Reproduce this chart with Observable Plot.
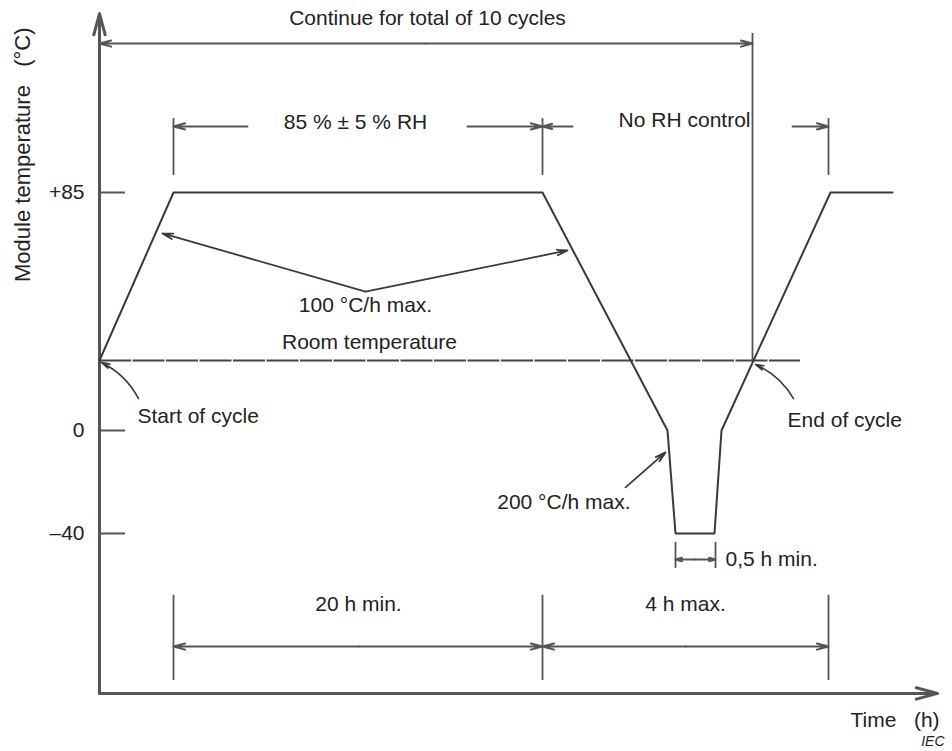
<!DOCTYPE html>
<html>
<head>
<meta charset="utf-8">
<script src="https://cdn.jsdelivr.net/npm/d3@7"></script>
<script src="https://cdn.jsdelivr.net/npm/@observablehq/plot@0.6"></script>
<style>
  html, body { margin: 0; padding: 0; background: #fff; }
  #chart svg { display: block; }
</style>
</head>
<body>
<div id="chart"></div>
<script>
// ---- Temperature profile of one humidity-freeze cycle (schematic time units, °C) ----
const cycleTime = [0, 7.4, 44.3, 56.8, 57.6, 61.5, 62.2, 73.1, 79.3];
const cycleTemp = [25, 85, 85, 0, -40, -40, 0, 85, 85];
const roomTemp = 25;
const roomTempEnd = 70.1;

// ---- Y tick values and labels ----
const yTicks = [85, 0, -40];
const yTickLabels = ["+85", "0", "\u201340"];

// ---- Axis extents (schematic) ----
const tMin = 0, tMax = 83.8;
const tempMin = -102.1, tempMax = 148.9;

// ---- Phase boundaries (schematic time) ----
const phaseBounds = [7.4, 44.3, 72.9];
const cycleEnd = 65.3;
const coldDwell = [57.6, 61.6];

// ---- Texts ----
const annotations = [
  {text: "Continue for total of 10 cycles", t: 32.8, temp: 147.1, anchor: "middle"},
  {text: "85 % \u00b1 5 % RH", t: 25.6, temp: 110, anchor: "middle"},
  {text: "No RH control", t: 65.1, temp: 110.7, anchor: "end"},
  {text: "100 \u00b0C/h max.", t: 26.6, temp: 44.6, anchor: "middle"},
  {text: "Room temperature", t: 27.0, temp: 31.4, anchor: "middle"},
  {text: "Start of cycle", t: 3.8, temp: 5, anchor: "start"},
  {text: "End of cycle", t: 68.8, temp: 3.6, anchor: "start"},
  {text: "200 \u00b0C/h max.", t: 53.1, temp: -28, anchor: "end"},
  {text: "0,5 h min.", t: 62.6, temp: -50.1, anchor: "start"},
  {text: "20 h min.", t: 25.9, temp: -67.5, anchor: "middle"},
  {text: "4 h max.", t: 58.6, temp: -67.5, anchor: "middle"},
  {text: "Time   (h)", t: 75.1, temp: -112.6, anchor: "start"}
];
const yLabel = {text: "Module temperature   (\u00b0C)", t: -7.7, temp: 98.5};
const sourceLabel = {text: "IEC", t: 84.5, temp: -120.8};

// ---- Leader arrows (tail -> head) ----
const leaders = [
  {t1: 26.6, y1: 49.6, t2: 6.3, y2: 70.4, curved: false},
  {t1: 26.6, y1: 49.6, t2: 46.8, y2: 64.3, curved: false},
  {t1: 3.9, y1: 11.4, t2: 0.2, y2: 24.3, curved: true},
  {t1: 69.4, y1: 11.4, t2: 65.6, y2: 23.6, curved: true},
  {t1: 52.6, y1: -22.1, t2: 56.6, y2: -8.5, curved: false}
];

// ---- Dimension arrows (tail -> head) ----
const dimArrows = [
  {t1: 32.65, y1: 138.2, t2: 0, y2: 138.2},
  {t1: 32.65, y1: 138.2, t2: 65.3, y2: 138.2},
  {t1: 14.8, y1: 108.6, t2: 7.4, y2: 108.6},
  {t1: 36.8, y1: 108.6, t2: 44.3, y2: 108.6},
  {t1: 47.3, y1: 108.6, t2: 44.3, y2: 108.6},
  {t1: 69.3, y1: 108.6, t2: 72.9, y2: 108.6},
  {t1: 59.6, y1: -50.1, t2: 57.6, y2: -50.1},
  {t1: 59.6, y1: -50.1, t2: 61.6, y2: -50.1},
  {t1: 25.9, y1: -83.9, t2: 7.4, y2: -83.9},
  {t1: 25.9, y1: -83.9, t2: 44.3, y2: -83.9},
  {t1: 58.6, y1: -83.9, t2: 44.3, y2: -83.9},
  {t1: 58.6, y1: -83.9, t2: 72.9, y2: -83.9}
];

// ---- Vertical dimension ticks ----
const dimTicks = [
  ...phaseBounds.map(t => ({t, y1: 91.1, y2: 111.4})),
  ...phaseBounds.map(t => ({t, y1: -97.1, y2: -64})),
  ...coldDwell.map(t => ({t, y1: -53.6, y2: -43.5})),
  {t: cycleEnd, y1: 25, y2: 141.8}
];

const profile = cycleTime.map((t, i) => ({t, temp: cycleTemp[i]}));
const ticks = yTicks.map((v, i) => ({v, label: yTickLabels[i]}));
const byAnchor = a => annotations.filter(d => d.anchor === a);

const FONT = "'Liberation Sans', Arial, Helvetica, sans-serif";
const INK = "#222";
const LINE = "#3a3a3a";
const DIM = "#555";
const FS = 21;

const chart = Plot.plot({
  width: 952,
  height: 751,
  marginTop: 0, marginRight: 0, marginBottom: 0, marginLeft: 0,
  x: {type: "linear", domain: [0, 84], range: [99, 939], axis: null},
  y: {type: "linear", domain: [-40, 0, 85], range: [533, 430, 192], axis: null},
  style: {background: "#fff", fontFamily: FONT, color: INK},
  marks: [
    // axes
    Plot.arrow([{}], {x1: () => tMin, y1: () => tempMin, x2: () => tMin, y2: () => tempMax,
      stroke: "#555", strokeWidth: 3, headLength: 11, headAngle: 30}),
    Plot.arrow([{}], {x1: () => tMin, y1: () => tempMin, x2: () => tMax, y2: () => tempMin,
      stroke: "#555", strokeWidth: 3, headLength: 11, headAngle: 30}),
    // y ticks
    Plot.ruleY(ticks, {y: "v", x1: 0, x2: 2.6, stroke: "#555", strokeWidth: 2}),
    Plot.text(ticks, {x: 0, y: "v", text: "label", textAnchor: "end", dx: -15,
      fontSize: FS, fill: INK}),
    // room temperature line
    Plot.ruleY([roomTemp], {x1: 0, x2: roomTempEnd, stroke: "#444", strokeWidth: 2,
      strokeDasharray: "32 1.5"}),
    // dimension ticks
    Plot.ruleX(dimTicks, {x: "t", y1: "y1", y2: "y2", stroke: DIM, strokeWidth: 1.8}),
    // dimension arrows
    Plot.arrow(dimArrows, {x1: "t1", y1: "y1", x2: "t2", y2: "y2",
      stroke: DIM, strokeWidth: 2, headLength: 9, headAngle: 30}),
    // profile
    Plot.line(profile, {x: "t", y: "temp", stroke: LINE, strokeWidth: 2, strokeLinejoin: "miter"}),
    // leaders
    Plot.arrow(leaders.filter(d => !d.curved), {x1: "t1", y1: "y1", x2: "t2", y2: "y2",
      stroke: LINE, strokeWidth: 1.8, headLength: 9, headAngle: 30}),
    Plot.arrow(leaders.filter(d => d.curved), {x1: "t1", y1: "y1", x2: "t2", y2: "y2",
      bend: -18, stroke: LINE, strokeWidth: 1.6, headLength: 8, headAngle: 30}),
    // annotations
    Plot.text(byAnchor("middle"), {x: "t", y: "temp", text: "text", textAnchor: "middle",
      fontSize: FS, fill: INK}),
    Plot.text(byAnchor("start"), {x: "t", y: "temp", text: "text", textAnchor: "start",
      fontSize: FS, fill: INK}),
    Plot.text(byAnchor("end"), {x: "t", y: "temp", text: "text", textAnchor: "end",
      fontSize: FS, fill: INK}),
    Plot.text([yLabel], {x: "t", y: "temp", text: "text", rotate: -90,
      fontSize: 22, fill: INK}),
    Plot.text([sourceLabel], {x: "t", y: "temp", text: "text", textAnchor: "end",
      fontSize: 14, fontStyle: "italic", fill: INK})
  ]
});

document.getElementById("chart").appendChild(chart);
</script>
</body>
</html>
